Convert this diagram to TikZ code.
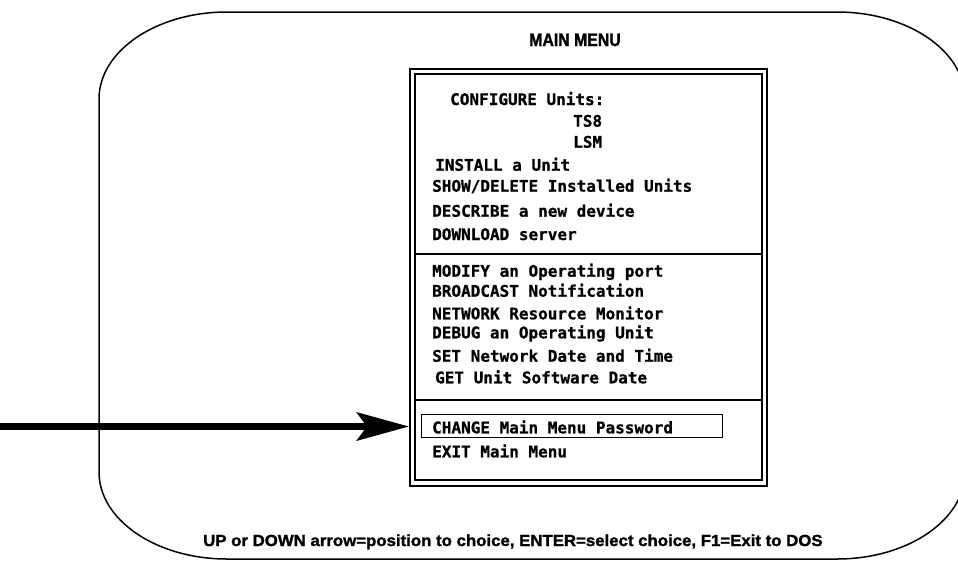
\documentclass[tikz,border=0pt]{standalone}
\usepackage{fontspec}
\usetikzlibrary{arrows.meta}
\newfontfamily\menufont[BoldFeatures={FakeBold=0.8}]{DejaVu Sans Mono}
\newfontfamily\titlefont[FakeStretch=0.88, BoldFeatures={FakeBold=1.5}]{Liberation Sans}
\newfontfamily\hintfont[FakeStretch=1.05, BoldFeatures={FakeBold=1.5}]{Liberation Sans}
\begin{document}
\begin{tikzpicture}[x=1pt,y=-1pt,
  menuitem/.style={anchor=base west, inner sep=0pt,
    font=\menufont\bfseries\fontsize{16}{16}\selectfont},
  boxline/.style={draw, line width=1.5pt, inner sep=0pt, anchor=north west},
  frameline/.style={line width=1.5pt},
  sepline/.style={line width=2pt}]
\useasboundingbox (0,0) rectangle (958,560);
\clip (0,0) rectangle (958,560);

% screen outline with elliptic corners
\draw[frameline]
  (99,99) .. controls (99,51) and (156.3,12) .. (227,12)
  -- (837,12) .. controls (907.7,12) and (965,51) .. (965,99)
  -- (965,472) .. controls (965,520) and (907.7,559) .. (837,559)
  -- (227,559) .. controls (156.3,559) and (99,520) .. (99,472) -- cycle;

% title
\node[anchor=base, inner sep=0pt, font=\titlefont\bfseries\fontsize{18}{18}\selectfont]
  (title) at (575,46) {MAIN MENU};

% menu window: double frame
\node[boxline, minimum width=357pt, minimum height=417pt] (menuouter) at (409,68) {};
\node[boxline, minimum width=347pt, minimum height=406pt] (menuinner) at (414,73) {};
\coordinate (sepA) at (0,254);
\coordinate (sepB) at (0,400);
\draw[sepline] (menuinner.west |- sepA) -- (menuinner.east |- sepA);
\draw[sepline] (menuinner.west |- sepB) -- (menuinner.east |- sepB);

% menu entries
\node[menuitem] (cfg)   at (450,105)   {CONFIGURE Units:};
\node[menuitem] (tsb)   at (573,126.7) {TS8};
\node[menuitem] (lsm)   at (573,147.7) {LSM};
\node[menuitem] (inst)  at (435,170.7) {INSTALL a Unit};
\node[menuitem] (show)  at (432,191.7) {SHOW/DELETE Installed Units};
\node[menuitem] (desc)  at (432,216.7) {DESCRIBE a new device};
\node[menuitem] (down)  at (432,240)   {DOWNLOAD server};
\node[menuitem] (modi)  at (432,276.7) {MODIFY an Operating port};
\node[menuitem] (bcast) at (432,296.7) {BROADCAST Notification};
\node[menuitem] (netw)  at (432,319.3) {NETWORK Resource Monitor};
\node[menuitem] (debug) at (432,338.3) {DEBUG an Operating Unit};
\node[menuitem] (setd)  at (432,361.7) {SET Network Date and Time};
\node[menuitem] (getd)  at (435,383.3) {GET Unit Software Date};
\node[menuitem] (chg)   at (432,433.3) {CHANGE Main Menu Password};
\node[menuitem] (exit)  at (432,457.3) {EXIT Main Menu};

% highlight bar around the selected entry
\node[draw, line width=1.3pt, inner sep=0pt, anchor=north west,
  minimum width=301pt, minimum height=23pt] (chgbox) at (421,414) {};

% pointer arrow
\coordinate (tail) at (0,426.5);
\draw[line width=7pt, -{Stealth[length=52pt,width=28pt,inset=10pt]}]
  (tail) -- (menuouter.west |- tail);

% key hint line
\node[anchor=base west, inner sep=0pt, font=\hintfont\bfseries\fontsize{16}{16}\selectfont]
  (hint) at (203,546) {UP or DOWN arrow=position to choice, ENTER=select choice, F1=Exit to DOS};
\end{tikzpicture}
\end{document}
